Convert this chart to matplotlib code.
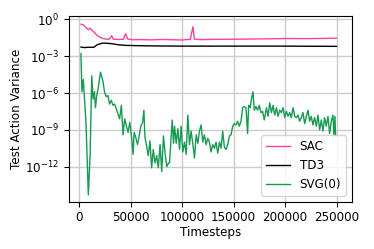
import numpy as np
import matplotlib
matplotlib.use("Agg")
import matplotlib.pyplot as plt
from matplotlib.ticker import NullLocator

# timesteps in thousands, values as log10(variance)
sac_t = [1.7, 4, 7, 8.7, 10.4, 13, 15.2, 18, 21.7, 25, 29, 31.5, 33, 38, 43, 45, 47,
         52, 60, 70, 80, 90, 100, 108, 110.4, 112, 118, 130, 150, 170, 190, 200,
         220, 240, 250]
sac_log = [-0.4, -0.45, -0.7, -0.85, -0.72, -0.95, -1.12, -1.35, -1.52, -1.6, -1.62,
           -1.33, -1.62, -1.64, -1.62, -1.17, -1.6, -1.66, -1.65, -1.67, -1.64, -1.66,
           -1.68, -1.62, -0.6, -1.62, -1.65, -1.63, -1.62, -1.6, -1.58, -1.56, -1.57,
           -1.55, -1.53]

td3_t = [1.7, 5, 9, 14, 17.4, 20, 23, 27, 31.5, 38, 45, 60, 80, 100, 150, 200, 250]
td3_log = [-2.26, -2.3, -2.27, -2.28, -2.07, -2.0, -1.93, -1.95, -1.98, -2.07, -2.12,
           -2.15, -2.17, -2.18, -2.18, -2.18, -2.2]

# (timestep in thousands, log10 variance)
svg_points = [
    (1.6, -2.8), (2.3, -5.1), (2.6, -5.9), (3.9, -4.9), (4.9, -6.2), (6.5, -8.4),
    (8.8, -14.3), (10.5, -11.1), (12.1, -4.6), (13.4, -6.5), (14.7, -5.9), (15.7, -7.2),
    (17.0, -6.2), (18.6, -5.5), (20.6, -4.3), (22.9, -5.0), (24.5, -5.9), (26.2, -6.3),
    (27.8, -6.2), (29.4, -6.9), (31.1, -6.6), (32.7, -7.0), (34.3, -6.9), (36.0, -7.3),
    (37.6, -7.7), (39.2, -8.1), (40.9, -7.0), (42.5, -9.4), (44.1, -8.1), (45.8, -8.7),
    (47.4, -9.2), (49.1, -8.4), (50.7, -9.5), (52.3, -11.0), (53.3, -9.2), (54.9, -9.6),
    (56.6, -10.2), (58.2, -9.5), (59.8, -8.7), (61.5, -8.4), (62.8, -7.4), (63.8, -9.6),
    (65.4, -10.3), (67.0, -11.1), (68.7, -9.9), (70.3, -12.1), (71.9, -10.6), (73.6, -11.7),
    (75.2, -11.1), (76.8, -12.1), (78.5, -10.2), (80.1, -12.4), (81.8, -9.5), (83.4, -10.9),
    (85.0, -12.0), (86.7, -11.7), (87.7, -11.7), (89.3, -9.5), (90.3, -8.2), (91.6, -10.1),
    (92.6, -8.7), (94.2, -10.1), (95.8, -8.9), (97.4, -10.6), (99.0, -8.7), (100.6, -10.8),
    (102.3, -10.0), (103.9, -11.0), (105.5, -7.8), (107.1, -10.2), (108.7, -9.1),
    (110.3, -10.1), (112.0, -11.3), (113.6, -9.4), (115.2, -10.1), (116.8, -9.1),
    (118.4, -8.6), (120.0, -10.0), (121.6, -9.4), (123.3, -10.2), (124.9, -9.7),
    (126.5, -10.0), (128.1, -10.8), (129.7, -10.2), (131.3, -10.5), (132.9, -10.0),
    (134.6, -10.9), (136.2, -10.0), (137.8, -10.5), (139.4, -9.1), (141.0, -10.4),
    (142.6, -10.6), (144.3, -10.2), (145.9, -9.5), (147.5, -9.4), (149.1, -8.7),
    (150.7, -8.5), (152.3, -8.6), (153.9, -8.3), (155.5, -8.7), (157.2, -8.3),
    (158.8, -7.2), (160.4, -7.1), (162.0, -7.2), (163.6, -9.3), (164.6, -7.0),
    (166.2, -7.2), (167.5, -6.4), (168.8, -5.9), (170.1, -7.4), (171.7, -7.1),
    (173.3, -7.4), (174.9, -7.0), (176.6, -7.6), (178.2, -7.5), (179.8, -8.2),
    (181.9, -7.2), (183.5, -7.9), (185.1, -6.8), (186.8, -7.6), (188.4, -7.0),
    (190.0, -7.8), (191.6, -7.2), (193.2, -7.9), (194.8, -7.4), (196.4, -7.6),
    (198.1, -7.2), (199.7, -8.0), (201.3, -7.5), (202.9, -7.9), (204.5, -7.6),
    (206.1, -8.0), (207.8, -7.2), (209.4, -7.9), (211.0, -8.0), (212.6, -7.8),
    (214.2, -8.3), (215.8, -8.0), (217.4, -7.6), (219.1, -8.5), (220.7, -7.9),
    (222.3, -7.4), (223.9, -8.3), (225.5, -7.9), (227.1, -8.6), (228.7, -8.0),
    (230.4, -8.7), (232.0, -7.8), (233.6, -9.0), (235.2, -8.2), (236.8, -9.1),
    (238.4, -8.0), (240.0, -8.7), (241.7, -7.9), (243.3, -9.3), (244.9, -8.3),
    (246.5, -7.8), (247.5, -9.4), (248.5, -7.9), (249.1, -9.5),
]

yticks = [1e0, 1e-3, 1e-6, 1e-9, 1e-12]
xticks = [0, 50000, 100000, 150000, 200000, 250000]

svg_t = np.array([p[0] for p in svg_points])
svg_log = np.array([p[1] for p in svg_points])

fs = 8.6
fig = plt.figure(figsize=(3.74, 2.49), dpi=100)
ax = fig.add_axes([0.1845, 0.19, 0.7565, 0.746])

ax.plot(np.array(sac_t) * 1000, 10.0 ** np.array(sac_log), color='#ff3fa4', lw=1.0, label='SAC')
ax.plot(np.array(td3_t) * 1000, 10.0 ** np.array(td3_log), color='black', lw=1.0, label='TD3')
ax.plot(svg_t * 1000, 10.0 ** svg_log, color='#159a52', lw=1.0, label='SVG(0)')

ax.set_yscale('log')
ax.set_ylim(1.4e-15, 1.9)
ax.set_xlim(-10000, 265000)
ax.set_yticks(yticks)
ax.yaxis.set_minor_locator(NullLocator())
ax.set_xticks(xticks)
ax.tick_params(labelsize=fs)
ax.grid(True, color='#cccccc', lw=1.0)
ax.set_axisbelow(True)

ax.set_xlabel('Timesteps', fontsize=fs, labelpad=1)
ax.set_ylabel('Test Action Variance', fontsize=fs, labelpad=2)
ax.legend(loc='lower right', fontsize=fs)

fig.savefig('out.png', dpi=100)
